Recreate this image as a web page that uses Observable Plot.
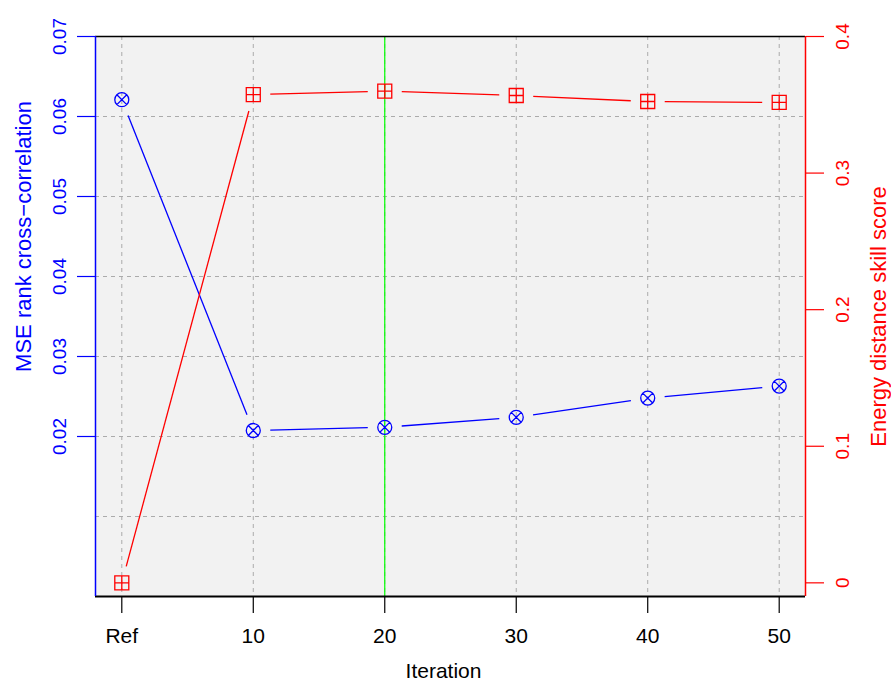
<!DOCTYPE html>
<html>
<head>
<meta charset="utf-8">
<script src="https://cdn.jsdelivr.net/npm/d3@7"></script>
<script src="https://cdn.jsdelivr.net/npm/@observablehq/plot@0.6"></script>
<style>
  html, body { margin: 0; padding: 0; background: #ffffff; }
  #chart { width: 891px; height: 684px; }
  svg { font-family: "Liberation Sans", Arial, sans-serif; }
</style>
</head>
<body>
<div id="chart"></div>
<script>
// ---- data ----
const iterations = [0, 10, 20, 30, 40, 50];
const iterationLabels = ["Ref", "10", "20", "30", "40", "50"];
const mseRank = [0.0621, 0.02075, 0.02115, 0.0224, 0.0248, 0.0263];
const energySkill = [0.0, 0.3575, 0.3600, 0.3568, 0.3524, 0.3517];
const leftTicks = [0.02, 0.03, 0.04, 0.05, 0.06, 0.07];
const leftGrid = [0.01, 0.02, 0.03, 0.04, 0.05, 0.06];
const rightTicks = [0, 0.1, 0.2, 0.3, 0.4];
const highlightIteration = [20];

// ---- layout / scales ----
const W = 891, H = 684;
const margins = {marginTop: 36, marginBottom: 88, marginLeft: 95, marginRight: 86};
const xDomain = [-2, 52];
const yDomain = [0, 0.07];
const rDomain = [-0.01, 0.4];
const toLeft = r => yDomain[0] + (r - rDomain[0]) / (rDomain[1] - rDomain[0]) * (yDomain[1] - yDomain[0]);

const BLUE = "#0000ff", RED = "#ff0000", GREEN = "#00ff00";
const GRID = "#ababab";
const FS_TICK_Y = 19, FS_TICK_X = 21, FS_TITLE = 22;

const scaleOpts = {
  width: W, height: H, ...margins,
  x: {domain: xDomain},
  y: {domain: yDomain}
};

// probe plot to obtain Plot's own scales
const probe = Plot.plot({...scaleOpts, marks: [Plot.frame()]});
const psx = probe.scale("x"), psy = probe.scale("y");
const sx = psx.apply ? psx : (() => { const s = d3.scaleLinear(psx.domain, psx.range); return {apply: s, invert: s.invert}; })();
const sy = psy.apply ? psy : (() => { const s = d3.scaleLinear(psy.domain, psy.range); return {apply: s, invert: s.invert}; })();

// R type="b": segments with gaps around the points
const GAP = 17;
function gappedSegments(xs, ys) {
  const segs = [];
  for (let i = 0; i < xs.length - 1; i++) {
    const x1 = sx.apply(xs[i]), y1 = sy.apply(ys[i]);
    const x2 = sx.apply(xs[i + 1]), y2 = sy.apply(ys[i + 1]);
    const dx = x2 - x1, dy = y2 - y1, L = Math.hypot(dx, dy);
    if (L <= 2 * GAP) continue;
    const ux = dx / L, uy = dy / L;
    segs.push({
      x1: sx.invert(x1 + ux * GAP), y1: sy.invert(y1 + uy * GAP),
      x2: sx.invert(x2 - ux * GAP), y2: sy.invert(y2 - uy * GAP)
    });
  }
  return segs;
}

const blueData = iterations.map((x, i) => ({x, y: mseRank[i]}));
const redData = iterations.map((x, i) => ({x, y: toLeft(energySkill[i])}));
const blueSegs = gappedSegments(iterations, mseRank);
const redSegs = gappedSegments(iterations, energySkill.map(toLeft));

// custom symbols: pch 13 (circle with x) and pch 12 (square with +)
const circleX = {
  draw(ctx, size) {
    const r = Math.sqrt(size / Math.PI);
    ctx.moveTo(r, 0);
    ctx.arc(0, 0, r, 0, 2 * Math.PI);
    const d = r / Math.SQRT2;
    ctx.moveTo(-d, -d); ctx.lineTo(d, d);
    ctx.moveTo(-d, d); ctx.lineTo(d, -d);
  }
};
const squarePlus = {
  draw(ctx, size) {
    const s = Math.sqrt(size / Math.PI);
    ctx.moveTo(-s, -s); ctx.lineTo(s, -s); ctx.lineTo(s, s); ctx.lineTo(-s, s); ctx.closePath();
    ctx.moveTo(-s, 0); ctx.lineTo(s, 0);
    ctx.moveTo(0, -s); ctx.lineTo(0, s);
  }
};

const fmt = d => d === 0 ? "0" : String(+d.toFixed(2));

const chart = Plot.plot({
  ...scaleOpts,
  style: {fontFamily: '"Liberation Sans", Arial, sans-serif', background: "#ffffff"},
  marks: [
    Plot.frame({fill: "#f2f2f2", stroke: null}),
    // grid
    Plot.ruleY(leftGrid, {stroke: GRID, strokeDasharray: "4,4", strokeWidth: 1}),
    Plot.ruleX(iterations, {stroke: GRID, strokeDasharray: "4,4", strokeWidth: 1}),
    // highlight
    Plot.ruleX(highlightIteration, {stroke: GREEN, strokeWidth: 1.2}),
    // lines
    Plot.link(blueSegs, {x1: "x1", y1: "y1", x2: "x2", y2: "y2", stroke: BLUE, strokeWidth: 1.3}),
    Plot.link(redSegs, {x1: "x1", y1: "y1", x2: "x2", y2: "y2", stroke: RED, strokeWidth: 1.3}),
    // points
    Plot.dot(blueData, {x: "x", y: "y", r: 7, symbol: circleX, stroke: BLUE, fill: "none", strokeWidth: 1.3}),
    Plot.dot(redData, {x: "x", y: "y", r: 7, symbol: squarePlus, stroke: RED, fill: "none", strokeWidth: 1.3}),
    // box
    Plot.ruleY([yDomain[1]], {stroke: "#000", strokeWidth: 1.5}),
    Plot.ruleY([yDomain[0]], {stroke: "#000", strokeWidth: 2.2}),
    Plot.ruleX([xDomain[0]], {stroke: BLUE, strokeWidth: 1.5}),
    Plot.ruleX([xDomain[1]], {stroke: RED, strokeWidth: 1.5}),
    // axis ticks
    Plot.axisX(iterations, {anchor: "bottom", tickSize: 17, tickFormat: () => "", label: null, stroke: "#000", strokeWidth: 1.2}),
    Plot.axisY(leftTicks, {anchor: "left", tickSize: 18, tickFormat: () => "", label: null, stroke: BLUE, strokeWidth: 1.2}),
    Plot.axisY(rightTicks.map(toLeft), {anchor: "right", tickSize: 18, tickFormat: () => "", label: null, stroke: RED, strokeWidth: 1.2}),
    // tick labels
    Plot.text(iterations, {x: d => d, text: (d, i) => iterationLabels[i], frameAnchor: "bottom", dy: 40, textAnchor: "middle", lineAnchor: "middle", fill: "#000", fontSize: FS_TICK_X}),
    Plot.text(leftTicks, {y: d => d, text: fmt, frameAnchor: "left", dx: -36, rotate: -90, textAnchor: "middle", lineAnchor: "middle", fill: BLUE, fontSize: FS_TICK_Y}),
    Plot.text(rightTicks, {y: d => toLeft(d), text: fmt, frameAnchor: "right", dx: 37, rotate: -90, textAnchor: "middle", lineAnchor: "middle", fill: RED, fontSize: FS_TICK_Y}),
    // axis titles
    Plot.text(["Iteration"], {text: d => d, frameAnchor: "bottom", dx: -7, dy: 75, textAnchor: "middle", lineAnchor: "middle", fill: "#000", fontSize: 21}),
    Plot.text(["MSE rank cross\u2212correlation"], {text: d => d, frameAnchor: "left", dx: -72, dy: -80, rotate: -90, textAnchor: "middle", lineAnchor: "middle", fill: BLUE, fontSize: FS_TITLE}),
    Plot.text(["Energy distance skill score"], {text: d => d, frameAnchor: "right", dx: 73, rotate: -90, textAnchor: "middle", lineAnchor: "middle", fill: RED, fontSize: FS_TITLE})
  ]
});

document.getElementById("chart").appendChild(chart);
</script>
</body>
</html>
